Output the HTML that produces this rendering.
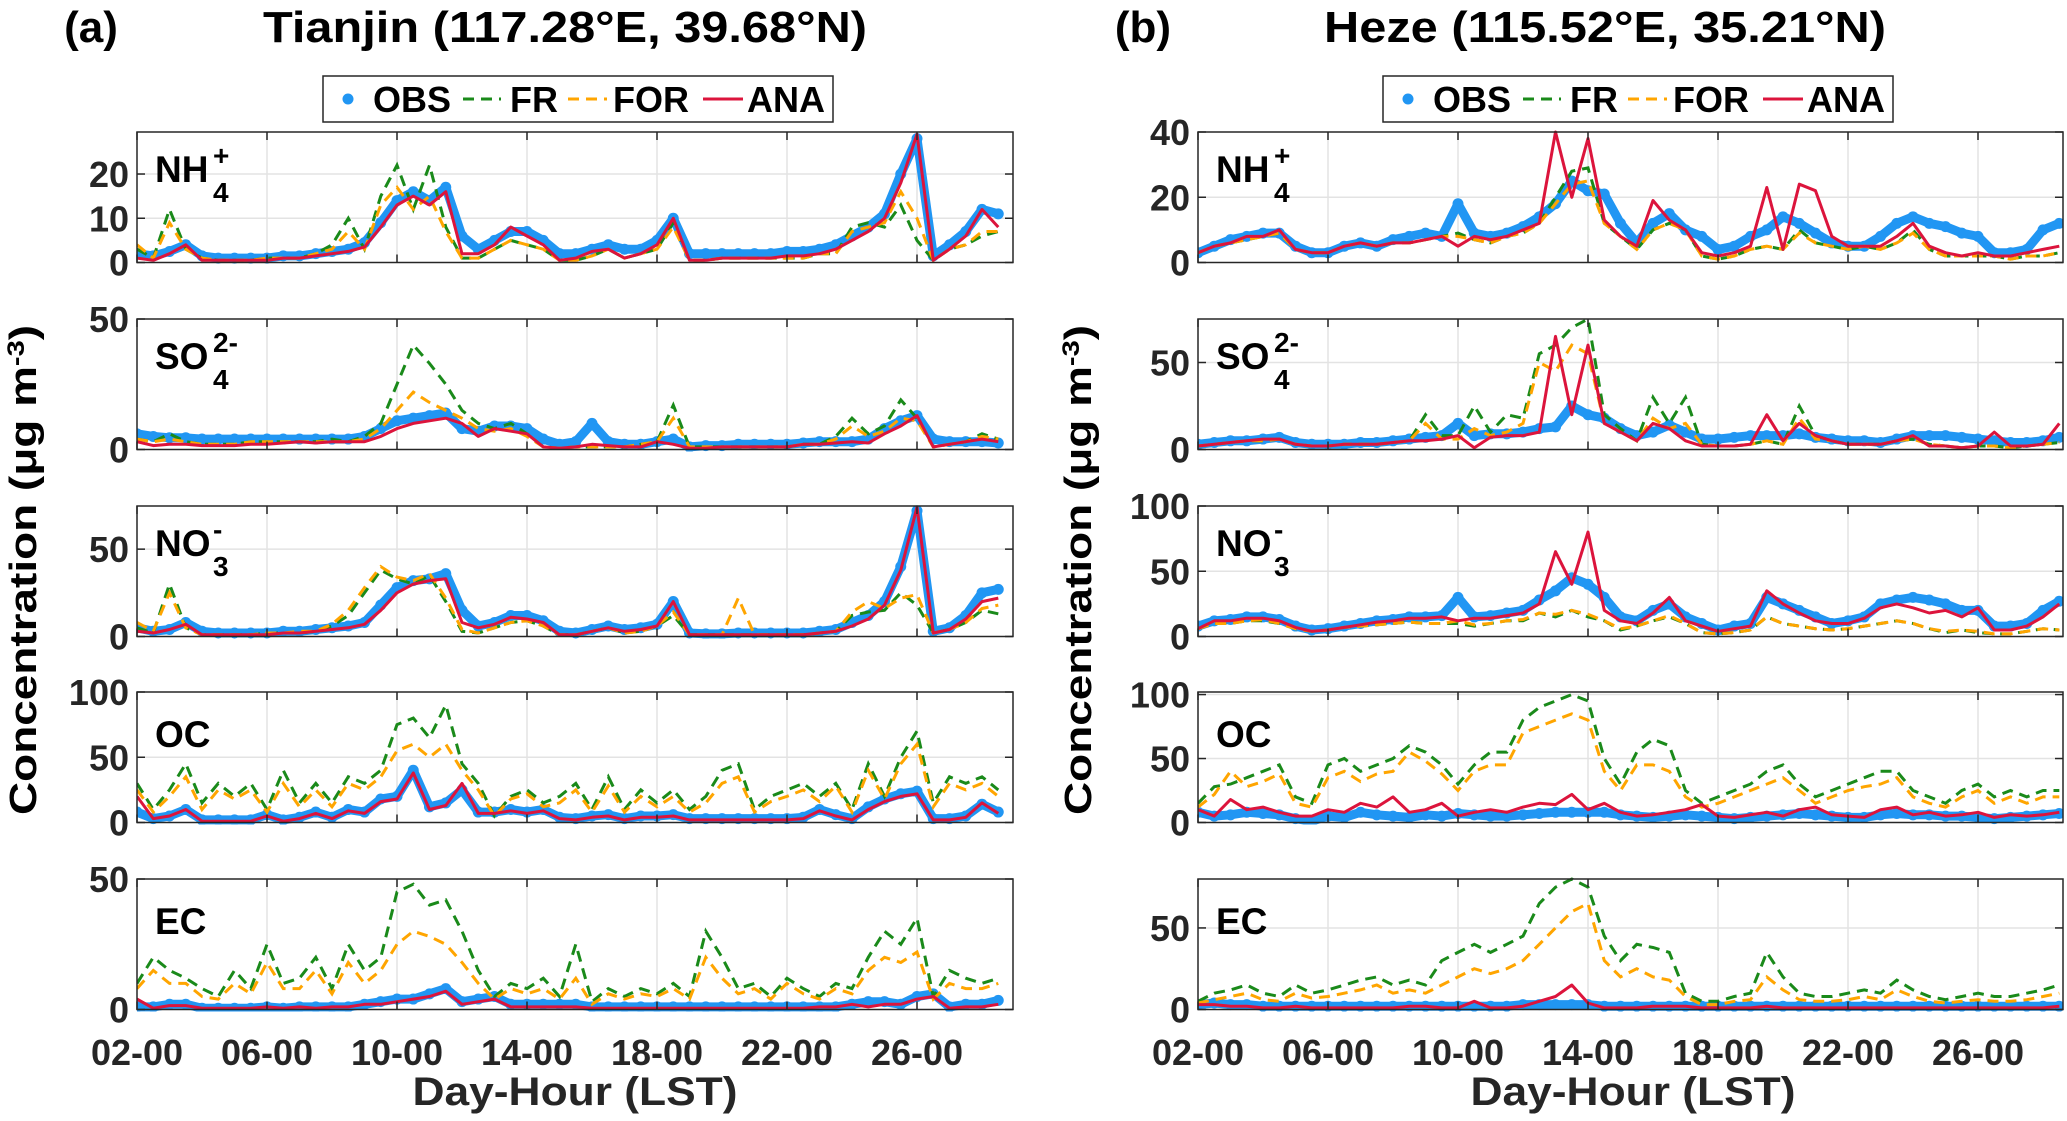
<!DOCTYPE html>
<html><head><meta charset="utf-8"><style>
html,body{margin:0;padding:0;background:#fff;}
svg{display:block;font-family:"Liberation Sans",Arial,sans-serif;font-weight:bold;}
</style></head><body>
<svg id="chart" width="2067" height="1121" viewBox="0 0 2067 1121" xmlns="http://www.w3.org/2000/svg">
<rect width="2067" height="1121" fill="#fff"/>
<g id="root"></g>
</svg>
<script>
const days = [0,0.5,1,1.5,2,2.5,3,3.5,4,4.5,5,5.5,6,6.5,7,7.5,8,8.5,9,9.5,10,10.5,11,11.5,12,12.5,13,13.5,14,14.5,15,15.5,16,16.5,17,17.5,18,18.5,19,19.5,20,20.5,21,21.5,22,22.5,23,23.5,24,24.5,25,25.5,26,26.5];
const xTickDays = [0,4,8,12,16,20,24];
const xTickLabels = ["02-00","06-00","10-00","14-00","18-00","22-00","26-00"];

// Tianjin
const tj_nh4_obs = [2,1.5,2.5,4,1.5,1,1,1,1,1.5,1.5,2,2.5,3,4.5,9,14,16,14,17,6,3,5,7,7,5,2,2,3,4,3,3,5,10,2,2,2,2,2,2,2.5,2.5,3,4,6,8,11,20,28,1.5,4,7,12,11];
const tj_nh4_ana = [1,0.5,2,4,0.5,0.5,0.5,0.5,0.5,1,1,1.5,2,2.5,3.5,8,13,15,13,16,2,2,4,8,6,4,0.5,1,2.5,3,1,2,4,10,0.5,0.5,1,1,1,1,1.5,1.5,2,3,5,7,10,18,29,0.5,3,6,12,8];
const tj_nh4_fr = [3,1,12,3,1,0.5,0.5,0.5,1,1,1,2,4,10,3,15,22,12,22,8,1,1,3,5,4,3,0.5,0.5,1.5,3,1,2,3,9,0.5,0.5,1,1,1,1,1,1,2,2,8,9,8,13,5,0.5,3,4,6,7];
const tj_nh4_for = [4,1,9,3,1,0.5,0.5,0.5,1,1,1,2,3,7,3,13,17,12,15,7,1,1,3,5,4,3,0.5,0.5,1.5,3,1,2,3,8,0.5,0.5,1,1,1,1,1,1,2,2,7,8,9,16,10,0.5,3,4,7,7];
const tj_so4_obs = [6,5,4.5,4.5,4,4,4,4,4,4,4,4,4,4,5,8,11,12,13,14,8,7,9,9,8,4,2,3,10,3,2,2,3,4,1,1.5,1.5,2,2,2,2,2.5,3,3,3,4,8,11,13,4,3,3,3,2.5];
const tj_so4_ana = [3,1.5,2,2,1.5,1.5,1.5,2,2,2.5,3,2.5,3,3,3,5,8,10,11,12,10,5,8,7,6,1,0.5,1,2,1.5,1,1,3,2,0.5,0.5,1,1,1,1,1,2,2,2.5,3,2.5,6,9,13,1,2,3,4,3];
const tj_so4_fr = [4,3,6,3,2,2,2,3,3,3,3,3,4,3,5,10,25,40,33,25,15,10,8,10,6,1,0.5,1,1,1,1,2,3,17,1,1,1,1,1,1,1,2,2,5,12,6,9,19,12,1,2,3,6,4];
const tj_so4_for = [4,3,4,3,2,2,2,3,3,3,3,3,3,3,4,8,15,22,18,15,12,8,7,8,5,1,0.5,1,1,1,1,2,3,12,1,1,1,1,1,1,1,2,2,4,9,5,7,12,11,1,2,3,5,4];
const tj_no3_obs = [5,3,4,8,3,2,2,2,2,3,3,4,5,6,8,18,28,32,33,36,15,6,8,12,12,9,3,2,4,6,4,5,7,20,2,1.5,1.5,2,2,2,2,2,3,4,8,12,20,40,72,3,5,12,25,27];
const tj_no3_ana = [3,2,4,7,1,1,1,1,1,2,2,3,4,5,7,15,25,30,32,33,8,5,7,11,10,8,1,1,3,5,3,4,6,20,1,1,1,1,1,1,1,1,2,3,6,10,18,38,74,2,4,10,20,22];
const tj_no3_fr = [5,2,30,5,1,1,1,1,2,2,2,3,6,12,25,38,33,30,35,20,3,2,5,8,9,6,1,1,3,5,2,3,6,12,1,1,1,1,1,1,1,1,2,3,12,14,15,25,18,2,4,8,15,13];
const tj_no3_for = [8,3,25,5,1,1,1,1,2,2,3,3,7,15,28,40,34,32,36,22,4,2,5,8,9,6,1,1,3,5,2,3,6,14,1,1,1,22,1,1,1,1,2,3,14,20,16,22,24,2,4,8,16,18];
const tj_oc_obs = [8,3,5,10,2,2,2,2,6,2,4,8,4,10,8,18,20,40,12,15,25,8,8,10,8,10,4,3,5,6,3,5,5,6,3,3,3,3,3,3,3,4,10,6,3,12,18,22,24,3,3,5,14,8];
const tj_oc_ana = [20,3,5,10,1,1,1,1,5,1,3,7,3,9,7,16,18,38,10,13,30,7,7,9,7,9,3,2,4,5,2,4,4,5,2,2,2,2,2,2,2,3,9,5,2,10,16,20,22,2,2,4,15,7];
const tj_oc_fr = [30,10,25,45,15,30,20,30,10,40,15,30,15,35,30,40,75,80,65,90,45,30,5,20,25,15,20,30,10,35,10,25,15,25,10,20,40,45,10,20,25,30,20,30,10,45,20,50,70,15,35,30,35,25];
const tj_oc_for = [25,8,20,35,10,25,18,25,8,30,12,25,12,30,25,35,55,60,50,60,40,25,5,18,22,12,15,25,8,28,8,20,12,20,8,15,30,35,8,16,20,25,16,28,8,40,18,45,60,12,30,25,30,20];
const tj_ec_obs = [1,1,2,2,0.5,0.5,0.5,0.5,1,0.5,1,1,1,1,2,3,4,4,6,8,3,4,5,2,2,2,2,2,1,1,1,1,1,1,1,1,1,1,1,1,1,1,1,1,2,3,3,2,5,6,1,2,2,3.5];
const tj_ec_ana = [4,0.5,1.5,1.5,0.5,0.5,0.5,0.5,1,0.5,1,0.5,1,1,2,2,3,4,5,7,2,3,4,1,1,1,1,1,0.5,0.5,0.5,0.5,0.5,0.5,0.5,0.5,0.5,0.5,0.5,0.5,0.5,0.5,1,1,2,1,2,2,4,5,0.5,1,1,2];
const tj_ec_fr = [10,20,15,12,8,5,15,8,25,10,12,20,8,25,15,20,45,48,40,42,30,15,5,10,8,12,5,25,3,8,5,8,6,10,5,30,20,8,10,5,12,8,5,10,8,20,30,25,35,5,15,12,10,12];
const tj_ec_for = [8,15,10,10,5,4,10,6,18,8,8,15,6,18,10,15,25,30,28,25,18,10,4,8,6,8,4,12,2,6,4,6,5,8,4,20,12,6,8,4,10,6,4,8,6,15,20,18,22,4,10,8,8,10];

// Heze
const hz_nh4_obs = [3,5,7,8,9,9,5,3,3,5,6,5,7,8,9,8,18,9,8,9,11,14,18,25,22,21,12,6,12,15,10,8,4,5,8,10,14,12,9,6,5,5,8,12,14,12,11,9,8,3,3,4,10,12];
const hz_nh4_ana = [3,5,6,8,8,10,4,3,3,5,6,5,6,6,7,8,5,8,7,8,10,12,40,20,38,13,8,5,19,13,10,3,2,3,5,23,4,24,22,8,5,5,5,8,12,5,3,2,3,2,2,3,4,5];
const hz_nh4_fr = [3,5,6,7,8,9,4,3,3,5,6,5,6,6,7,8,9,7,6,8,9,12,20,28,29,12,8,4,10,12,10,2,1,2,4,5,4,10,6,5,4,5,4,6,10,4,2,2,2,2,1,2,2,3];
const hz_nh4_for = [3,5,6,7,8,9,4,3,3,5,6,5,6,6,7,8,8,7,6,8,9,12,18,24,25,12,8,4,10,12,10,2,1,2,4,5,4,9,6,5,4,5,4,6,9,4,2,2,2,2,1,2,2,3];
const hz_so4_obs = [3,4,5,5,6,7,4,3,3,3,4,4,5,6,7,8,15,8,9,9,10,12,13,25,20,18,12,8,10,14,10,6,6,7,8,8,8,9,7,6,5,5,4,6,8,8,8,7,6,5,4,4,5,7];
const hz_so4_ana = [2,3,4,5,6,6,3,2,2,3,3,3,4,5,5,6,8,1,7,8,8,10,65,20,60,15,10,5,15,12,5,2,2,2,3,20,5,15,8,5,3,3,3,5,8,2,2,1,2,10,2,2,3,15];
const hz_so4_fr = [2,3,4,5,5,6,3,2,2,3,3,3,4,5,20,8,8,25,10,20,18,55,60,70,75,20,12,5,30,15,30,3,2,2,3,5,3,25,8,5,3,3,3,5,6,3,2,1,2,2,1,2,3,4];
const hz_so4_for = [2,3,4,5,5,6,3,2,2,3,3,3,4,5,15,6,6,12,8,10,15,50,45,60,55,15,10,5,18,12,15,3,2,2,3,5,3,18,6,5,3,3,3,5,6,3,2,1,2,2,1,2,3,4];
const hz_no3_obs = [8,12,13,15,15,13,8,5,6,8,10,12,13,15,15,16,30,15,16,18,20,28,35,45,40,30,15,12,20,25,15,10,5,8,10,30,25,20,15,10,12,15,25,28,30,28,25,20,20,8,8,10,20,27];
const hz_no3_ana = [6,12,12,14,14,12,7,4,5,7,9,11,12,14,14,15,12,14,14,16,18,25,65,40,80,20,12,10,18,30,12,8,4,6,8,35,25,18,12,10,10,14,22,25,22,18,20,15,22,5,5,8,15,25];
const hz_no3_fr = [6,10,10,12,12,10,6,4,5,7,8,9,10,11,10,10,10,8,10,12,12,18,15,20,15,12,5,8,12,15,10,3,2,3,5,15,10,8,6,5,6,8,10,12,10,6,3,5,3,2,2,4,6,5];
const hz_no3_for = [6,10,10,12,13,10,6,4,5,7,8,9,10,11,10,10,12,9,10,12,13,18,17,20,17,12,6,8,12,16,10,3,2,3,5,15,10,8,6,5,6,8,10,12,10,6,4,5,4,2,2,4,6,5];
const hz_oc_obs = [8,5,6,8,7,6,3,1,5,4,8,6,5,4,6,5,7,6,5,5,6,7,8,8,8,8,6,5,4,5,6,5,4,3,4,5,6,7,6,5,4,4,6,7,6,6,5,5,4,3,4,5,6,7];
const hz_oc_ana = [10,5,18,10,12,8,5,5,10,8,15,12,20,8,10,15,5,8,10,8,12,15,14,22,10,15,8,5,6,8,10,14,5,4,6,8,5,10,12,6,5,4,10,12,6,8,5,6,8,4,6,5,6,8];
const hz_oc_fr = [15,28,30,35,40,45,20,15,45,50,40,45,50,60,55,45,30,45,55,55,80,90,95,100,95,50,30,55,65,60,25,15,20,25,30,40,45,30,20,25,30,35,40,40,25,20,15,25,30,20,25,20,25,25];
const hz_oc_for = [12,22,40,28,32,38,15,12,35,40,32,38,40,55,48,38,25,40,45,45,70,75,80,85,80,40,25,45,45,40,20,12,15,20,25,30,35,25,15,20,25,28,30,35,20,15,12,20,25,15,20,15,20,20];
const hz_ec_obs = [3,4,3,3,2,2,2,2,2,2,2,2,2,2,2,2,2,2,2,2,3,3,3,3,3,2,2,2,2,2,2,2,2,2,2,2,2,2,2,2,2,2,2,2,2,2,2,2,2,2,2,2,2,2];
const hz_ec_ana = [3,3,2,2,1,1,2,1,1,1,1,1,1,2,2,1,1,5,1,1,2,5,8,15,4,1,1,1,2,2,2,1,1,1,1,2,1,1,1,1,1,1,1,1,1,1,1,1,1,1,1,1,1,2];
const hz_ec_fr = [5,10,12,15,10,8,15,10,12,15,18,20,15,18,15,30,35,40,35,40,45,65,75,80,75,45,30,40,38,35,10,5,5,8,10,35,20,10,8,8,10,12,10,18,12,8,6,8,10,8,8,10,12,15];
const hz_ec_for = [4,6,8,10,6,5,10,7,8,10,12,15,10,12,10,15,20,25,22,25,30,40,50,60,65,30,20,25,20,18,8,3,3,5,6,20,12,6,5,5,6,8,6,12,8,5,4,5,6,5,5,6,8,10];

const yMaxL = [29.5,50,74.7,100,50];
const yMaxR = [40,75,100,102,80];
const yTicksL = [[0,10,20],[0,50],[0,50],[0,50,100],[0,50]];
const yTicksR = [[0,20,40],[0,50],[0,50,100],[0,50,100],[0,50]];

const NS = "http://www.w3.org/2000/svg";
const root = document.getElementById("root");
function mk(tag, attrs, parent) {
  const e = document.createElementNS(NS, tag);
  for (const k in attrs) e.setAttribute(k, attrs[k]);
  (parent || root).appendChild(e);
  return e;
}
const TOPS = [132,319,506,692,879];
const PH = 130.5;
const PXDAY = 32.5;
const species = ["nh4","so4","no3","oc","ec"];
const COL = {obs:"#2196f3", fr:"#1a8a1a", for:"#ffa500", ana:"#dc143c"};

function drawPanel(side, idx, x0, x1, ymax, ticks, S) {
  const top = TOPS[idx], bot = top + PH;
  const xs = d => x0 + d * PXDAY;
  const ys = v => bot - (v / ymax) * PH;
  const g = mk("g", {});
  
  
  mk("rect", {x:x0, y:top, width:x1-x0, height:PH, fill:"#fff"}, g);
  xTickDays.forEach(d => { if (d > 0) mk("line", {x1:xs(d), x2:xs(d), y1:top, y2:bot, stroke:"#e3e3e3", "stroke-width":1.5}, g); });
  ticks.forEach(t => { if (t > 0 && t < ymax) mk("line", {x1:x0, x2:x1, y1:ys(t), y2:ys(t), stroke:"#e3e3e3", "stroke-width":1.5}, g); });
  const cid = "clip-" + side + idx;
  const cp = mk("clipPath", {id:cid}, g);
  mk("rect", {x:x0, y:top - 2, width:x1-x0, height:PH + 4}, cp);
  const sg = mk("g", {"clip-path":"url(#" + cid + ")"}, g);
  const pts = arr => arr.slice(0, days.length).map((v, i) => xs(days[i]).toFixed(1) + "," + ys(v).toFixed(1)).join(" ");
  const og = mk("g", {}, sg);
  
  
  mk("polyline", {points:pts(S.obs), fill:"none", stroke:COL.obs, "stroke-width":9, "stroke-linejoin":"round", "stroke-linecap":"round"}, og);
  S.obs.forEach((v, i) => {
    if (i >= days.length) return;
    const c = mk("circle", {cx:xs(days[i]), cy:ys(v), r:5.5, fill:COL.obs}, og);
    
    
  });
  const fr = mk("polyline", {points:pts(S.fr), fill:"none", stroke:COL.fr, "stroke-width":3, "stroke-dasharray":"11,7"}, sg);
  
  
  const fo = mk("polyline", {points:pts(S.for), fill:"none", stroke:COL.for, "stroke-width":3, "stroke-dasharray":"11,7"}, sg);
  
  
  const an = mk("polyline", {points:pts(S.ana), fill:"none", stroke:COL.ana, "stroke-width":3, "stroke-linejoin":"round"}, sg);
  
  
  xTickDays.forEach(d => {
    mk("line", {x1:xs(d), x2:xs(d), y1:bot, y2:bot-8, stroke:"#262626", "stroke-width":1.5}, g);
    mk("line", {x1:xs(d), x2:xs(d), y1:top, y2:top+8, stroke:"#262626", "stroke-width":1.5}, g);
  });
  ticks.forEach(t => {
    mk("line", {x1:x0, x2:x0+8, y1:ys(t), y2:ys(t), stroke:"#262626", "stroke-width":1.5}, g);
    mk("line", {x1:x1, x2:x1-8, y1:ys(t), y2:ys(t), stroke:"#262626", "stroke-width":1.5}, g);
    const tl = mk("text", {x:x0-8, y:ys(t)+13, "text-anchor":"end", "font-size":36, fill:"#262626"}, g);
    tl.textContent = t;
    
    
  });
  mk("rect", {x:x0, y:top, width:x1-x0, height:PH, fill:"none", stroke:"#262626", "stroke-width":1.5}, g);
  const lx = x0 + 18;
  const lab = {nh4:["NH","4","+"], so4:["SO","4","2-"], no3:["NO","3","-"], oc:["OC"], ec:["EC"]}[species[idx]];
  const by = top + (lab.length > 1 ? 50 : 55);
  const lt = mk("text", {x:lx, y:by, "font-size":37, fill:"#000"}, g);
  lt.textContent = lab[0];
  
  
  if (lab.length > 1) {
    const w = 58;
    const sb = mk("text", {x:lx+w, y:by+20, "font-size":28, fill:"#000"}, g);
    sb.textContent = lab[1];
    const sp = mk("text", {x:lx+w, y:by-17, "font-size":28, fill:"#000"}, g);
    sp.textContent = lab[2];
  }
  if (idx === 4) {
    xTickDays.forEach((d, i) => {
      const t = mk("text", {x:xs(d), y:1065, "text-anchor":"middle", "font-size":36, fill:"#262626"}, g);
      t.textContent = xTickLabels[i];
      
      
    });
  }
}

const TJ = [
 {obs:tj_nh4_obs, ana:tj_nh4_ana, fr:tj_nh4_fr, for:tj_nh4_for},
 {obs:tj_so4_obs, ana:tj_so4_ana, fr:tj_so4_fr, for:tj_so4_for},
 {obs:tj_no3_obs, ana:tj_no3_ana, fr:tj_no3_fr, for:tj_no3_for},
 {obs:tj_oc_obs, ana:tj_oc_ana, fr:tj_oc_fr, for:tj_oc_for},
 {obs:tj_ec_obs, ana:tj_ec_ana, fr:tj_ec_fr, for:tj_ec_for}];
const HZ = [
 {obs:hz_nh4_obs, ana:hz_nh4_ana, fr:hz_nh4_fr, for:hz_nh4_for},
 {obs:hz_so4_obs, ana:hz_so4_ana, fr:hz_so4_fr, for:hz_so4_for},
 {obs:hz_no3_obs, ana:hz_no3_ana, fr:hz_no3_fr, for:hz_no3_for},
 {obs:hz_oc_obs, ana:hz_oc_ana, fr:hz_oc_fr, for:hz_oc_for},
 {obs:hz_ec_obs, ana:hz_ec_ana, fr:hz_ec_fr, for:hz_ec_for}];

for (let i = 0; i < 5; i++) {
  drawPanel("tianjin", i, 137, 1013, yMaxL[i], yTicksL[i], TJ[i]);
  drawPanel("heze", i, 1198, 2063, yMaxR[i], yTicksR[i], HZ[i]);
}

function legend(x, side) {
  const g = mk("g", {});
  
  
  mk("rect", {x:x, y:76, width:510, height:46, fill:"#fff", stroke:"#262626", "stroke-width":1.5}, g);
  const cy = 99;
  mk("circle", {cx:x+25, cy:cy, r:5.5, fill:COL.obs}, g);
  const t1 = mk("text", {x:x+50, y:cy+13, "font-size":36, fill:"#000"}, g); t1.textContent = "OBS";
  mk("line", {x1:x+140, x2:x+178, y1:cy, y2:cy, stroke:COL.fr, "stroke-width":3, "stroke-dasharray":"11,7"}, g);
  const t2 = mk("text", {x:x+187, y:cy+13, "font-size":36, fill:"#000"}, g); t2.textContent = "FR";
  mk("line", {x1:x+245, x2:x+284, y1:cy, y2:cy, stroke:COL.for, "stroke-width":3, "stroke-dasharray":"11,7"}, g);
  const t3 = mk("text", {x:x+290, y:cy+13, "font-size":36, fill:"#000"}, g); t3.textContent = "FOR";
  mk("line", {x1:x+380, x2:x+420, y1:cy, y2:cy, stroke:COL.ana, "stroke-width":3}, g);
  const t4 = mk("text", {x:x+424, y:cy+13, "font-size":36, fill:"#000"}, g); t4.textContent = "ANA";
}
legend(323, "tianjin");
legend(1383, "heze");

function txt(s, attrs, name) {
  const t = mk("text", attrs);
  t.textContent = s;
  
  
  return t;
}
txt("(a)", {x:91, y:42, "text-anchor":"middle", "font-size":44, fill:"#000"}, "panel-a-label");
txt("Tianjin (117.28°E, 39.68°N)", {x:565, y:42, "text-anchor":"middle", "font-size":44, fill:"#000", textLength:604, lengthAdjust:"spacingAndGlyphs"}, "tianjin-title");
txt("(b)", {x:1143, y:42, "text-anchor":"middle", "font-size":44, fill:"#000"}, "panel-b-label");
txt("Heze (115.52°E, 35.21°N)", {x:1605, y:42, "text-anchor":"middle", "font-size":44, fill:"#000", textLength:562, lengthAdjust:"spacingAndGlyphs"}, "heze-title");
txt("Day-Hour (LST)", {x:575, y:1105, "text-anchor":"middle", "font-size":40, fill:"#262626", textLength:325, lengthAdjust:"spacingAndGlyphs"}, "x-axis-title-left");
txt("Day-Hour (LST)", {x:1633, y:1105, "text-anchor":"middle", "font-size":40, fill:"#262626", textLength:325, lengthAdjust:"spacingAndGlyphs"}, "x-axis-title-right");
const yl1 = txt("", {transform:"translate(36,570) rotate(-90)", "text-anchor":"middle", "font-size":38, fill:"#000", textLength:490, lengthAdjust:"spacingAndGlyphs"}, "y-axis-title-left");
yl1.innerHTML = 'Concentration (μg m<tspan dy="-12" font-size="24">-3</tspan><tspan dy="12">)</tspan>';
const yl2 = txt("", {transform:"translate(1091,570) rotate(-90)", "text-anchor":"middle", "font-size":38, fill:"#000", textLength:490, lengthAdjust:"spacingAndGlyphs"}, "y-axis-title-right");
yl2.innerHTML = 'Concentration (μg m<tspan dy="-12" font-size="24">-3</tspan><tspan dy="12">)</tspan>';
</script>
</body></html>
